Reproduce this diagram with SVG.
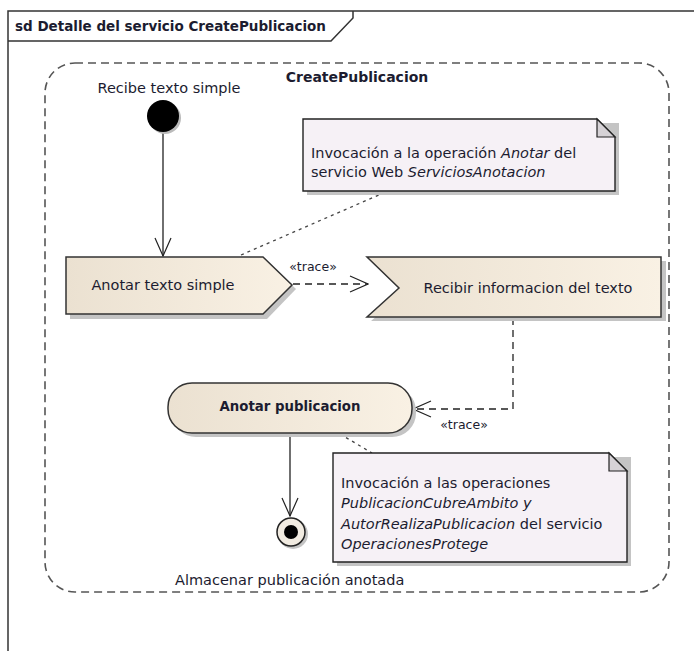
<svg xmlns="http://www.w3.org/2000/svg" width="694" height="651" viewBox="0 0 694 651">
  <defs>
    <linearGradient id="actFill" x1="0" y1="0" x2="1" y2="0">
      <stop offset="0" stop-color="#ebe1d1"/>
      <stop offset="1" stop-color="#f9f1e4"/>
    </linearGradient>
    <marker id="open" viewBox="0 0 20 18" refX="19" refY="9" markerWidth="20" markerHeight="18" markerUnits="userSpaceOnUse" orient="auto">
      <path d="M1,1 L19,9 L1,17" fill="none" stroke="#222" stroke-width="1.2"/>
    </marker>
  </defs>
  <style>
    text { font-family: "DejaVu Sans", "Liberation Sans", sans-serif; font-size: 14.5px; fill: #1c1c30; }
    .b { font-weight: bold; font-size: 13.5px; }
    .sm { font-size: 12.5px; }
    .it { font-style: italic; }
    .frame { fill: none; stroke: #333; stroke-width: 1.5; }
    .region { fill: none; stroke: #555; stroke-width: 1.6; stroke-dasharray: 8 5; }
    .act { fill: url(#actFill); stroke: #333; stroke-width: 1.5; }
    .shadow { fill: #c4c4c4; }
    .note { fill: #f6f1f6; stroke: #222; stroke-width: 1.4; }
    .fold { fill: #d6d2d6; stroke: #222; stroke-width: 1.2; }
    .flow { fill: none; stroke: #222; stroke-width: 1.3; }
    .trace { fill: none; stroke: #222; stroke-width: 1.3; stroke-dasharray: 7 5; }
    .anchor { fill: none; stroke: #444; stroke-width: 1.3; stroke-dasharray: 3 4; }
  </style>

  <rect width="694" height="651" fill="#fff"/>

  <!-- sequence frame and its name tab -->
  <g id="frame">
    <path class="frame" d="M8,651 V11 H694"/>
    <path class="frame" d="M8,41 H331 L353,18 V11"/>
    <text class="b" x="15" y="31">sd Detalle del servicio CreatePublicacion</text>
  </g>

  <!-- activity region -->
  <g id="region">
    <rect class="region" x="45" y="63" width="624" height="529" rx="30" ry="30"/>
    <text class="b" x="357" y="82" text-anchor="middle" style="font-size:14px">CreatePublicacion</text>
  </g>

  <!-- connectors -->
  <g id="connectors">
    <line class="flow" x1="163" y1="132" x2="163" y2="256" marker-end="url(#open)"/>
    <line class="trace" x1="293" y1="284" x2="368" y2="284" marker-end="url(#open)"/>
    <text class="sm" x="313" y="271" text-anchor="middle">«trace»</text>
    <polyline class="trace" points="513,318 513,409 413,409" marker-end="url(#open)"/>
    <text class="sm" x="464" y="429" text-anchor="middle">«trace»</text>
    <line class="flow" x1="290" y1="434" x2="290" y2="516" marker-end="url(#open)"/>
    <line class="anchor" x1="241" y1="255" x2="388" y2="191"/>
    <line class="anchor" x1="340" y1="434" x2="372" y2="453"/>
  </g>

  <!-- initial node -->
  <g id="initial">
    <circle cx="165" cy="118" r="16" fill="#bbb"/>
    <circle cx="163" cy="116" r="16" fill="#000"/>
    <text x="169" y="93" text-anchor="middle">Recibe texto simple</text>
  </g>

  <!-- note on the signal action -->
  <g id="note1">
    <path class="shadow" d="M307,123 H619 V195 H307 Z"/>
    <path class="note" d="M303,119 H597 L615,137 V191 H303 Z"/>
    <path class="fold" d="M597,119 V137 H615 Z"/>
    <text x="311" y="158">Invocación a la operación <tspan class="it">Anotar</tspan> del</text>
    <text x="311" y="177">servicio Web <tspan class="it">ServiciosAnotacion</tspan></text>
  </g>

  <!-- send signal action -->
  <g id="anotarTexto">
    <path class="shadow" d="M70,261 H267 L296,289 L267,319 H70 Z"/>
    <path class="act" d="M66,257 H263 L292,285 L263,314 H66 Z"/>
    <text x="163" y="290" text-anchor="middle">Anotar texto simple</text>
  </g>

  <!-- accept event action -->
  <g id="recibirInfo">
    <path class="shadow" d="M371,261 H666 V321 H371 L404,292 Z"/>
    <path class="act" d="M367,257 H661 V317 H367 L399,288 Z"/>
    <text x="528" y="293" text-anchor="middle">Recibir informacion del texto</text>
  </g>

  <!-- activity -->
  <g id="anotarPublicacion">
    <rect class="shadow" x="172" y="387" width="244" height="50" rx="24"/>
    <rect class="act" x="168" y="383" width="244" height="50" rx="24"/>
    <text class="b" x="290" y="411" text-anchor="middle" style="font-size:13.3px">Anotar publicacion</text>
  </g>

  <!-- note on the activity -->
  <g id="note2">
    <path class="shadow" d="M337,457 H631 V566 H337 Z"/>
    <path class="note" d="M333,453 H609 L627,471 V562 H333 Z"/>
    <path class="fold" d="M609,453 V471 H627 Z"/>
    <text x="341" y="488">Invocación a las operaciones</text>
    <text x="341" y="508" class="it">PublicacionCubreAmbito y</text>
    <text x="341" y="529"><tspan class="it">AutorRealizaPublicacion</tspan> del servicio</text>
    <text x="341" y="549" class="it">OperacionesProtege</text>
  </g>

  <!-- final node -->
  <g id="final">
    <circle cx="293" cy="534" r="15" fill="#c4c4c4"/>
    <circle cx="291" cy="532" r="14" fill="#f1ebe1" stroke="#222" stroke-width="1.5"/>
    <circle cx="291" cy="532" r="7" fill="#000"/>
    <text x="175" y="585">Almacenar publicación anotada</text>
  </g>
</svg>
